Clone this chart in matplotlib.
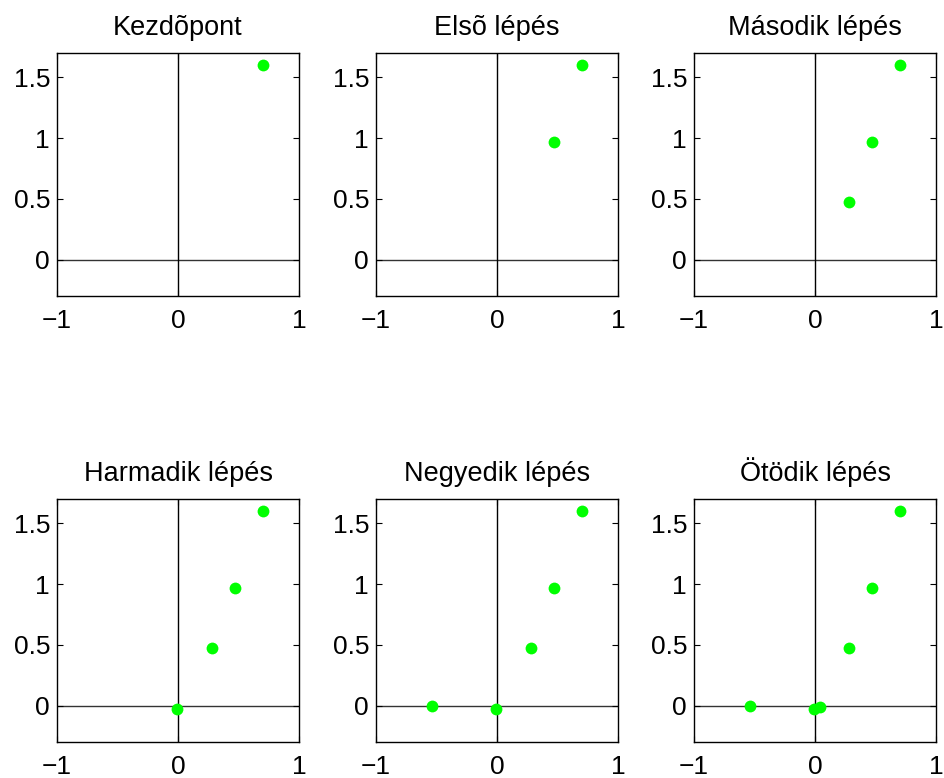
"""
Step-by-step iteration plot: each panel shows the points reached so far.
"""
import matplotlib
matplotlib.use("Agg")
import matplotlib.pyplot as plt

plt.rcParams["font.family"] = ["Liberation Sans", "DejaVu Sans"]

# iterate positions, in the order they were visited
x_pts = [0.70, 0.47, 0.28, -0.01, -0.54, 0.04]
y_pts = [1.60, 0.97, 0.47, -0.03, 0.00, -0.01]

titles = ["Kezdõpont", "Elsõ lépés", "Második lépés",
          "Harmadik lépés", "Negyedik lépés", "Ötödik lépés"]

x_ticks = [-1, 0, 1]
y_ticks = [0, 0.5, 1, 1.5]
x_lim = (-1, 1)
y_lim = (-0.3, 1.7)

fig = plt.figure(figsize=(9.44, 7.78), dpi=100)

col_left = [57, 376, 694]
row_top = [53, 499]
ax_w, ax_h = 242, 243
W, H = 944, 778

for k, title in enumerate(titles):
    r, c = divmod(k, 3)
    left = col_left[c] / W
    bottom = 1 - (row_top[r] + ax_h) / H
    ax = fig.add_axes([left, bottom, ax_w / W, ax_h / H])

    # coordinate cross
    ax.axhline(0, color="#333333", lw=1.0, zorder=1)
    ax.axvline(0, color="black", lw=1.0, zorder=1)

    n = k + 1
    ax.plot(x_pts[:n], y_pts[:n], "o", color="#00ff00", markersize=8.5,
            markeredgewidth=0, zorder=3)

    ax.set_xlim(*x_lim)
    ax.set_ylim(*y_lim)
    ax.set_xticks(x_ticks)
    ax.set_yticks(y_ticks)
    ax.set_xticklabels(["\u22121", "0", "1"])
    ax.set_yticklabels(["0", "0.5", "1", "1.5"])
    ax.tick_params(direction="in", length=4, width=0.8, top=True, right=True,
                   labelsize=19)
    ax.tick_params(axis="x", pad=9)
    ax.tick_params(axis="y", pad=5)
    for s in ax.spines.values():
        s.set_linewidth(1.0)
    ax.set_title(title, fontsize=19.5, pad=13)

fig.savefig("out.png", dpi=100)
